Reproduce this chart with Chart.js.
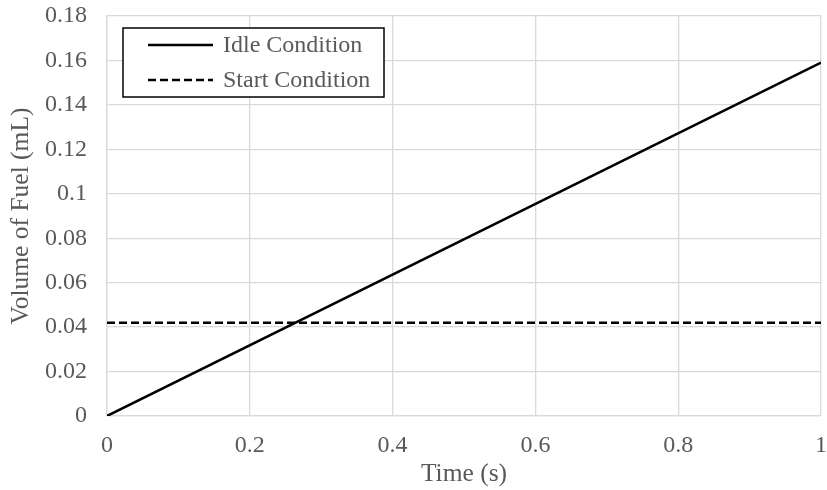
<!DOCTYPE html>
<html>
<head>
<meta charset="utf-8">
<script src="https://cdn.jsdelivr.net/npm/chart.js@4"></script>
<style>
  html, body { margin: 0; padding: 0; background: #ffffff; }
  #wrap { width: 827px; height: 490px; position: relative; }
</style>
</head>
<body>
<div id="wrap"><canvas id="c" width="827" height="490"></canvas></div>
<script>
// Fuel volume over time for the two operating conditions
const timeSeconds = [0, 1];
const idleVolume = [0, 0.159];
const startVolume = [0.042, 0.042];
const seriesNames = ['Idle Condition', 'Start Condition'];
const xTitle = 'Time (s)';
const yTitle = 'Volume of Fuel (mL)';

const FONT = '"Liberation Serif", "Times New Roman", serif';
const TEXT = '#595959';
const GRID = '#d9d9d9';

function toPoints(xs, ys) {
  return xs.map((x, i) => ({ x: x, y: ys[i] }));
}

// Boxed legend drawn inside the plot area, upper left
const boxLegend = {
  id: 'boxLegend',
  afterDraw(chart) {
    const ctx = chart.ctx;
    const area = chart.chartArea;
    const x0 = area.left + 16, y0 = area.top + 12;
    const w = 261, h = 69;
    ctx.save();
    ctx.fillStyle = '#ffffff';
    ctx.fillRect(x0, y0, w, h);
    ctx.strokeStyle = '#000000';
    ctx.lineWidth = 1.5;
    ctx.strokeRect(x0, y0, w, h);
    chart.data.datasets.forEach((ds, i) => {
      const cy = y0 + 17 + i * 35;
      ctx.beginPath();
      ctx.setLineDash(ds.borderDash || []);
      ctx.strokeStyle = ds.borderColor;
      ctx.lineWidth = ds.borderWidth;
      ctx.moveTo(x0 + 25, cy);
      ctx.lineTo(x0 + 90, cy);
      ctx.stroke();
      ctx.setLineDash([]);
      ctx.fillStyle = TEXT;
      ctx.font = '24px ' + FONT;
      ctx.textBaseline = 'middle';
      ctx.textAlign = 'left';
      ctx.fillText(ds.label, x0 + 100, cy + 1);
    });
    ctx.restore();
  }
};

new Chart(document.getElementById('c'), {
  type: 'scatter',
  data: {
    datasets: [
      {
        label: seriesNames[0],
        data: toPoints(timeSeconds, idleVolume),
        showLine: true,
        borderColor: '#000000',
        borderWidth: 2.5,
        pointRadius: 0,
        fill: false
      },
      {
        label: seriesNames[1],
        data: toPoints(timeSeconds, startVolume),
        showLine: true,
        borderColor: '#000000',
        borderWidth: 2.5,
        borderDash: [8, 4],
        pointRadius: 0,
        fill: false
      }
    ]
  },
  options: {
    responsive: false,
    animation: false,
    devicePixelRatio: 1,
    layout: { padding: { left: 0, right: 6, top: 16, bottom: 0 } },
    plugins: {
      legend: { display: false },
      tooltip: { enabled: false }
    },
    scales: {
      x: {
        type: 'linear',
        min: 0,
        max: 1,
        ticks: {
          stepSize: 0.2,
          padding: 15,
          color: TEXT,
          font: { family: FONT, size: 24 },
          callback: v => Number(v.toFixed(2)).toString()
        },
        grid: { color: GRID, lineWidth: 1.3, drawTicks: false },
        border: { color: GRID, width: 1.3 },
        title: {
          display: true,
          text: xTitle,
          color: TEXT,
          font: { family: FONT, size: 25.5 },
          padding: { top: 0, bottom: 0 }
        },
        afterFit(scale) {
          scale.height = 74;
          scale.paddingLeft = 0;
          scale.paddingRight = 0;
        }
      },
      y: {
        type: 'linear',
        min: 0,
        max: 0.18,
        ticks: {
          stepSize: 0.02,
          padding: 20,
          color: TEXT,
          font: { family: FONT, size: 24 },
          callback: v => Number(v.toFixed(2)).toString()
        },
        grid: { color: GRID, lineWidth: 1.3, drawTicks: false },
        border: { color: GRID, width: 1.3 },
        title: {
          display: true,
          text: yTitle,
          color: TEXT,
          font: { family: FONT, size: 25.5 },
          padding: { top: 6, bottom: 0 }
        },
        afterFit(scale) {
          scale.width = 107;
          scale.paddingTop = 0;
          scale.paddingBottom = 0;
        }
      }
    }
  },
  plugins: [boxLegend]
});
</script>
</body>
</html>
